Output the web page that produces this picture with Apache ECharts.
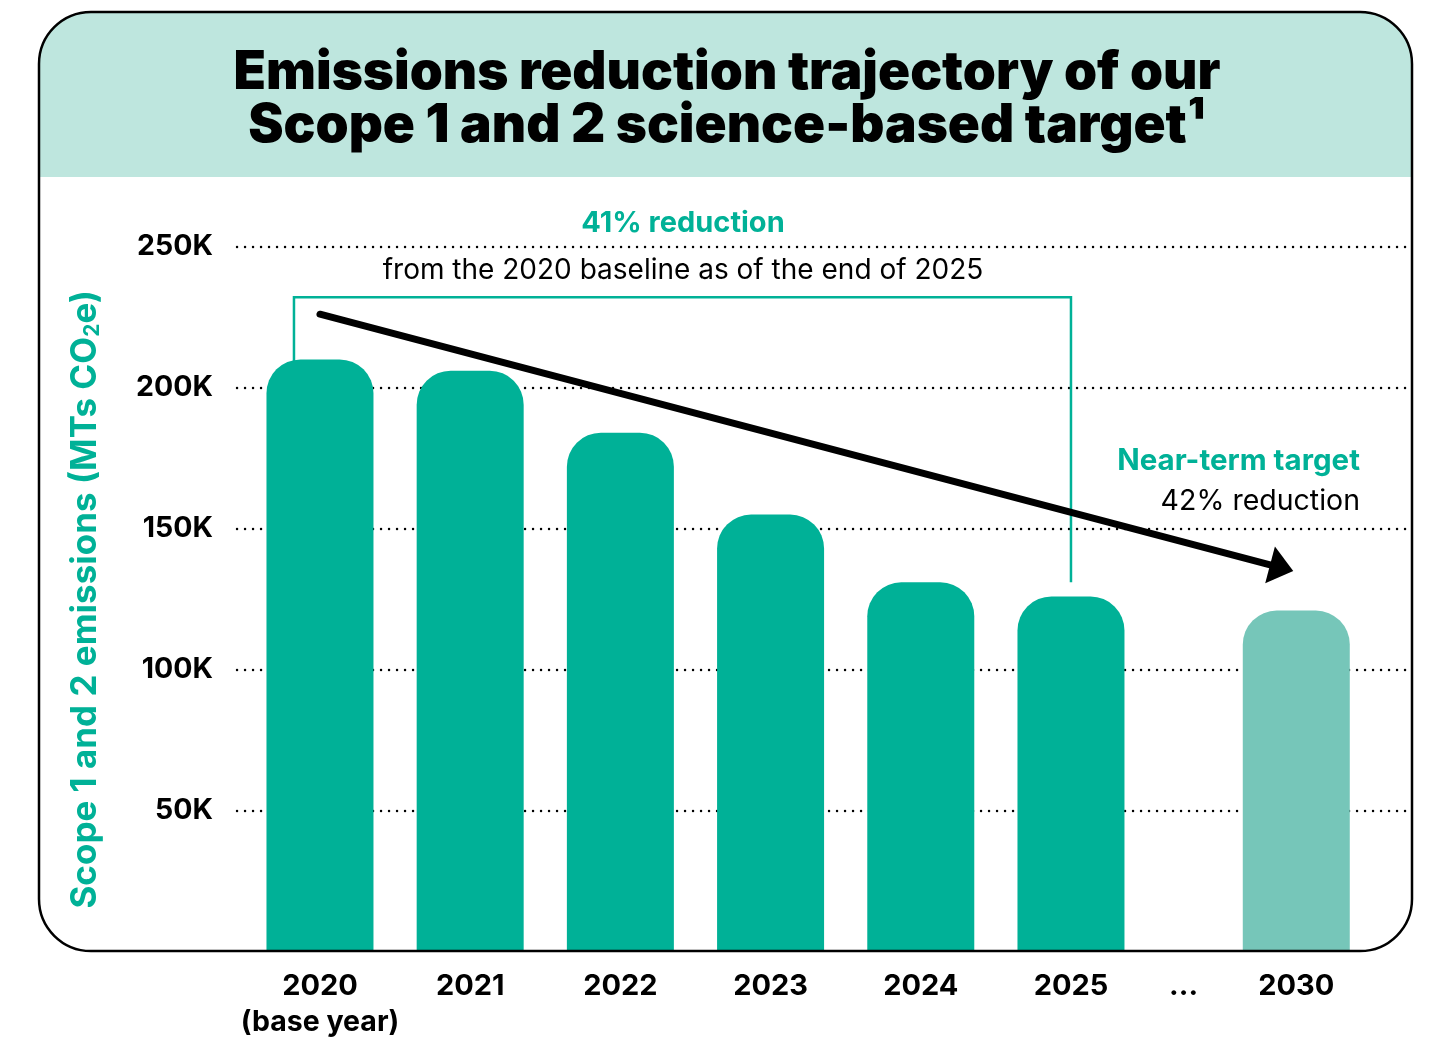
<!DOCTYPE html>
<html><head><meta charset="utf-8">
<script src="https://cdn.jsdelivr.net/npm/echarts@6/dist/echarts.min.js"></script>
<style>html,body{margin:0;padding:0;background:#fff}#c{width:1430px;height:1038px}</style>
</head><body><div id="c"></div>
<script>
// ---------- data ----------
const categories = ['2020', '2021', '2022', '2023', '2024', '2025', '...', '2030'];
const categoryNotes = ['(base year)', '', '', '', '', '', '', ''];
const emissions = [210000, 206000, 184000, 155000, 131000, 126000, null, 121000];
const targetCategory = '2030';
const yTickValues = [50000, 100000, 150000, 200000, 250000];
const yTickLabels = ['50K', '100K', '150K', '200K', '250K'];
const titleLines = ['Emissions reduction trajectory of our', 'Scope 1 and 2 science-based target\u00B9'];
const reductionText = ['41% reduction', 'from the 2020 baseline as of the end of 2025'];
const targetText = ['Near-term target', '42% reduction'];
const bracketTopValue = 232000;
const bracketEndGap = 5000;
const arrowStartValue = 226000;
const arrowEndValue = 135000;

// ---------- layout / style ----------
const TEAL = '#00b197';
const TEAL_LIGHT = '#76c6b9';
const BAND = '#bee6de';
const FONT = 'Inter, "Noto Sans", sans-serif';
const slotOf = [0, 4, 8, 12, 16, 20, 23, 26];
const SLOTS = 27;
const slotNames = Array.from({length: SLOTS}, (_, i) => 's' + i);
const slotLabel = {};
slotOf.forEach((s, i) => slotLabel[s] = i);
const barData = Array(SLOTS).fill(null);
slotOf.forEach((s, i) => {
  if (emissions[i] == null) return;
  barData[s] = categories[i] === targetCategory
    ? {value: emissions[i], itemStyle: {color: TEAL_LIGHT}}
    : emissions[i];
});
const TOP = 246.5, BOTTOM = 1038 - 952;

const chart = echarts.init(document.getElementById('c'), null, {renderer: 'canvas'});

const baseGraphic = [
  {type: 'rect', z: -10, shape: {x: 39, y: 12, width: 1373, height: 165, r: [52, 52, 0, 0]}, style: {fill: BAND}},
  {type: 'rect', z: 100, shape: {x: 39, y: 12, width: 1373, height: 939, r: 52}, style: {fill: 'none', stroke: '#000', lineWidth: 2.5}},
  {type: 'text', z: 10, x: 727, y: 100, style: {text: titleLines.join('\n'), font: '900 53px ' + FONT, fill: '#000', align: 'center', verticalAlign: 'middle', lineHeight: 53}},
  {type: 'text', z: 10, x: 683, y: 223, style: {text: reductionText[0], font: '700 29px ' + FONT, fill: TEAL, align: 'center', verticalAlign: 'middle'}},
  {type: 'text', z: 10, x: 683, y: 271, style: {text: reductionText[1], font: '400 28px ' + FONT, fill: '#000', align: 'center', verticalAlign: 'middle'}},
  {type: 'text', z: 10, x: 1360, y: 461, style: {text: targetText[0], font: '700 29.5px ' + FONT, fill: TEAL, align: 'right', verticalAlign: 'middle'}},
  {type: 'text', z: 10, x: 1360, y: 501, style: {text: targetText[1], font: '400 28.5px ' + FONT, fill: '#000', align: 'right', verticalAlign: 'middle'}}
];

const option = {
  backgroundColor: '#fff',
  animation: false,
  grid: [
    {left: 301.2, right: 1430 - (301.2 + SLOTS * 37.55), top: TOP, bottom: BOTTOM, containLabel: false},
    {left: 237, right: 18, top: TOP, bottom: BOTTOM, containLabel: false}
  ],
  xAxis: [
    {
      type: 'category', gridIndex: 0, data: slotNames, boundaryGap: true,
      axisLine: {show: false}, axisTick: {show: false},
      axisLabel: {
        interval: 0, margin: 16,
        formatter: (v, idx) => {
          const k = slotLabel[idx];
          if (k === undefined) return '';
          return categoryNotes[k] ? '{y|' + categories[k] + '}\n{n|' + categoryNotes[k] + '}' : '{y|' + categories[k] + '}';
        },
        rich: {
          y: {fontFamily: FONT, fontWeight: 700, fontSize: 29, color: '#000', lineHeight: 36},
          n: {fontFamily: FONT, fontWeight: 700, fontSize: 28.5, color: '#000', lineHeight: 36}
        }
      }
    },
    {type: 'value', gridIndex: 1, min: 0, max: 1, show: false}
  ],
  yAxis: [
    {type: 'value', gridIndex: 0, min: 0, max: 250000, interval: 50000, show: false},
    {
      type: 'value', gridIndex: 1, min: 0, max: 250000, interval: 50000,
      axisLine: {show: false}, axisTick: {show: false},
      axisLabel: {
        margin: 24, showMinLabel: false,
        formatter: v => { const i = yTickValues.indexOf(v); return i < 0 ? '' : yTickLabels[i]; },
        fontFamily: FONT, fontWeight: 700, fontSize: 28.5, color: '#000'
      },
      splitLine: {show: true, showMinLine: false, lineStyle: {color: '#000', width: 2.4, type: [0.1, 7.9], cap: 'round'}},
      name: 'Scope 1 and 2 emissions (MTs CO{sub|2}e)',
      nameLocation: 'middle', nameRotate: 90, nameGap: 134,
      nameTextStyle: {
        fontFamily: FONT, fontWeight: 700, fontSize: 35, color: TEAL,
        rich: {sub: {fontFamily: FONT, fontWeight: 700, fontSize: 21, color: TEAL, lineHeight: 18, verticalAlign: 'bottom'}}
      }
    }
  ],
  series: [{
    type: 'bar', xAxisIndex: 0, yAxisIndex: 0, data: barData,
    barWidth: 107, clip: false,
    itemStyle: {color: TEAL, borderRadius: [34, 34, 0, 0]}
  }],
  graphic: baseGraphic
};
chart.setOption(option);

// annotation lines placed through the chart's own scales
const px = (k, v) => chart.convertToPixel({seriesIndex: 0}, [slotOf[k], v]);
const iFirst = 0, iLast = categories.indexOf('2025'), iTarget = categories.indexOf(targetCategory);
const bl = px(iFirst, emissions[iFirst]);
const bt = px(iFirst, bracketTopValue);
const br = px(iLast, bracketTopValue);
const be = px(iLast, emissions[iLast] + bracketEndGap);
const bx0 = bl[0] - 26;
const a0 = px(iFirst, arrowStartValue);
const a1 = px(iTarget, arrowEndValue);
a1[0] -= 3;
const dx = a1[0] - a0[0], dy = a1[1] - a0[1];
const len = Math.sqrt(dx * dx + dy * dy);
const ux = dx / len, uy = dy / len;
const headL = 24, headW = 19;
const baseX = a1[0] - ux * headL, baseY = a1[1] - uy * headL;
chart.setOption({
  graphic: baseGraphic.concat([
    {type: 'polyline', z: 50, shape: {points: [[bx0, bl[1] + 2], [bx0, bt[1]], [br[0], br[1]], [be[0], be[1]]]}, style: {stroke: TEAL, lineWidth: 2.5, fill: 'none'}},
    {type: 'line', z: 51, shape: {x1: a0[0], y1: a0[1], x2: baseX + ux * 3, y2: baseY + uy * 3}, style: {stroke: '#000', lineWidth: 7, lineCap: 'round'}},
    {type: 'polygon', z: 51, shape: {points: [[a1[0], a1[1]], [baseX - uy * headW, baseY + ux * headW], [baseX + uy * headW, baseY - ux * headW]]}, style: {fill: '#000'}}
  ])
}, {replaceMerge: ['graphic']});
</script></body></html>
